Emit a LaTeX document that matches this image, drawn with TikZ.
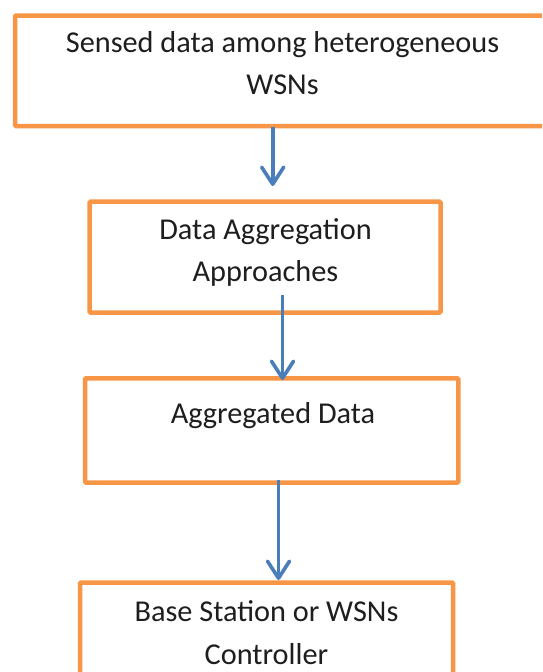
\documentclass[tikz,border=0pt]{standalone}
\usepackage{fontspec}
\setmainfont{Carlito}
\usetikzlibrary{arrows.meta}
\definecolor{boxorange}{HTML}{F79646}
\definecolor{arrowblue}{HTML}{4A7EBB}
\definecolor{txtcol}{HTML}{1E1E1E}
\tikzset{
  flowbox/.style={draw=boxorange, line width=4.5pt, fill=white, rectangle, rounded corners=1pt, inner sep=0pt},
  txt/.style={anchor=base, inner sep=0pt, text=txtcol, font=\fontsize{30.3}{36}\selectfont},
  flowarrow/.style={draw=arrowblue, line width=3.6pt, -{Straight Barb[length=17pt,width=22pt,line cap=round, line join=round]}}
}
\begin{document}
\begin{tikzpicture}[x=1pt,y=-1pt]
\clip (0,0) rectangle (542,672);
\fill[white] (0,0) rectangle (542,672);
% boxes
\node[flowbox, minimum width=540pt, minimum height=110.5pt] (b1) at (285,70.75) {};
\node[flowbox, minimum width=351pt, minimum height=110.8pt] (b2) at (265,257.1) {};
\node[flowbox, minimum width=373.3pt, minimum height=104.2pt] (b3) at (271.65,430.4) {};
\node[flowbox, minimum width=373pt, minimum height=140pt] (b4) at (266.5,652.5) {};
% texts
\node[txt] (t1a) at (282.5,52.7) {Sensed data among heterogeneous};
\node[txt] (t1b) at (282.5,94.7) {WSNs};
\node[txt] (t2a) at (265.5,239) {Data Aggregation};
\node[txt] (t2b) at (265.5,281.3) {Approaches};
\node[txt] (t3) at (273,423) {Aggregated Data};
\node[txt] (t4a) at (266.5,621.7) {Base Station or WSNs};
\node[txt] (t4b) at (266.5,664) {Controller};
% arrow coordinates
\coordinate (a1s) at (272.7,126.5);
\coordinate (a1e) at (272.7,186);
\coordinate (a2s) at (282.5,295);
\coordinate (a2e) at (282.5,380);
\coordinate (a3s) at (278.5,480);
\coordinate (a3e) at (278.5,580);
\draw[flowarrow] (a1s) -- (a1e);
\draw[flowarrow] (a2s) -- (a2e);
\draw[flowarrow] (a3s) -- (a3e);
\end{tikzpicture}
\end{document}
